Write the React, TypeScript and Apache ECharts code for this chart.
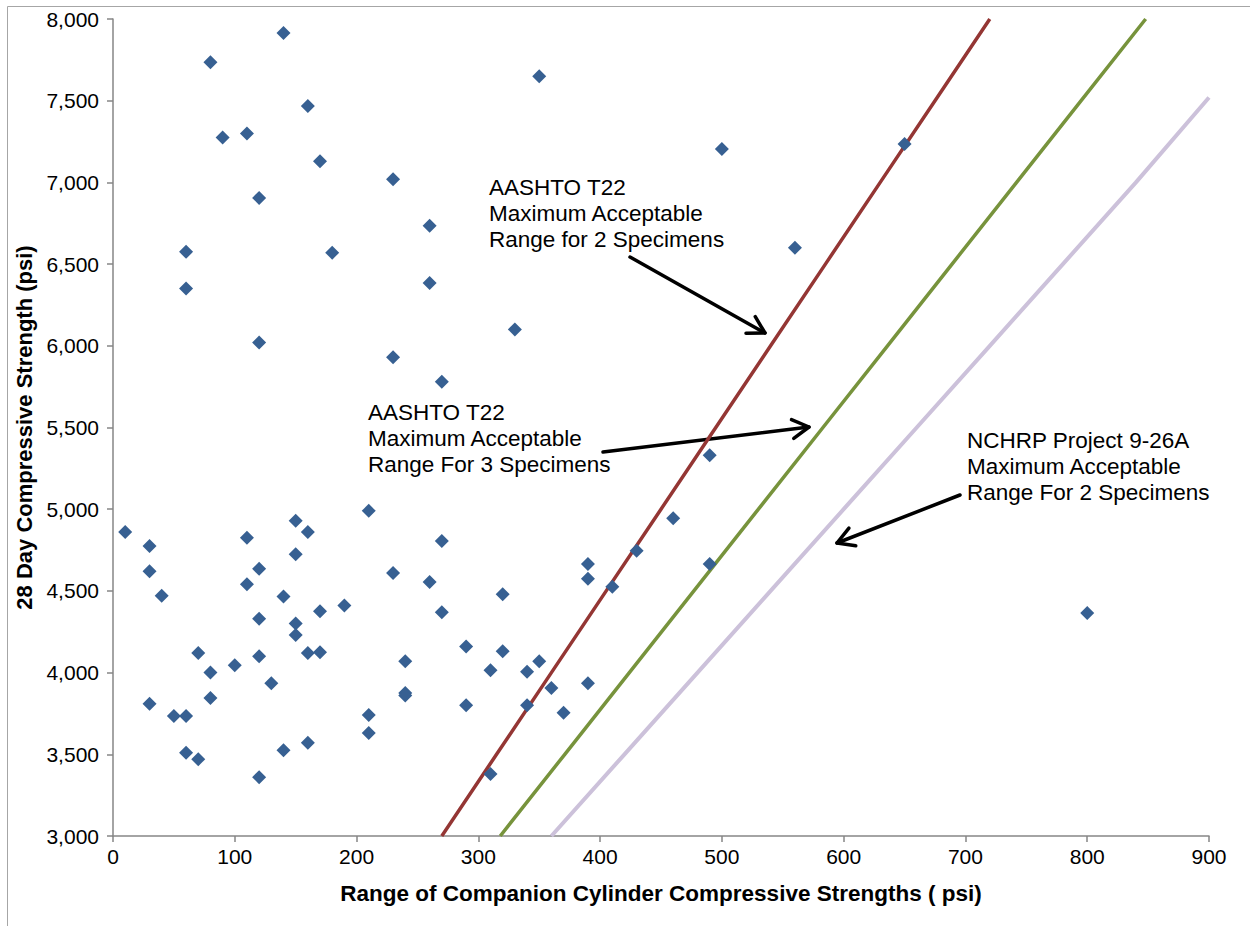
import React, { useEffect, useRef } from "react";
import * as echarts from "echarts";

// Range of companion cylinder compressive strengths (psi)
const rangePsi = [
  80, 140, 160, 90, 110, 170, 230, 120, 60, 180, 60, 350, 500, 260, 260, 560, 650, 120, 230, 270, 330, 490,
  10, 30, 30, 40, 30, 50, 60, 60, 70, 70, 80, 80, 100, 110, 110, 120, 120, 120, 120, 130, 140, 140, 150, 150,
  150, 150, 160, 160, 160, 170, 170, 190, 210, 210, 210, 230, 240, 240, 240, 260, 270, 270, 290, 290, 310,
  310, 320, 320, 340, 340, 350, 360, 370, 390, 390, 390, 410, 430, 460, 490, 800,
];
// 28 day compressive strength (psi)
const strengthPsi = [
  7735, 7915, 7467, 7275, 7300, 7130, 7020, 6905, 6575, 6570, 6350, 7650, 7205, 6735, 6385, 6600, 7235, 6020, 5930, 5780, 6100, 5330,
  4860, 4775, 4620, 4470, 3810, 3735, 3735, 3510, 3470, 4120, 4000, 3845, 4045, 4825, 4540, 4635, 4330, 4100, 3360, 3935, 4465, 3525, 4930, 4725,
  4300, 4230, 4860, 4120, 3570, 4375, 4125, 4410, 4990, 3740, 3630, 4610, 4070, 3875, 3860, 4555, 4805, 4370, 4160, 3800, 4015,
  3380, 4480, 4130, 4005, 3800, 4070, 3905, 3755, 3935, 4665, 4575, 4525, 4745, 4945, 4665, 4365,
];

// Limit lines: strength (psi) and the maximum acceptable range at that strength
const limitStrengths = [3000, 3500, 4000, 4500, 5000, 5500, 6000, 6500, 7000, 7500, 8000];
const aashto2Ranges = [270, 315, 360, 405, 450, 495, 540, 585, 630, 675, 720];
const aashto3Ranges = [318, 371, 424, 477, 530, 583, 636, 689, 742, 795, 848];
const nchrpStrengths = [3000, 3500, 4000, 4500, 5000, 5500, 6000, 6500, 7000, 7520];
const nchrpRanges = [360, 420, 480, 540, 600, 660, 720, 780, 840, 900];

const xTicks = { min: 0, max: 900, interval: 100 };
const yTicks = { min: 3000, max: 8000, interval: 500 };

const FONT = "'Liberation Sans', Arial, sans-serif";

function arrow(x1: number, y1: number, x2: number, y2: number) {
  const ang = Math.atan2(y2 - y1, x2 - x1);
  const len = 19;
  const spread = 0.52;
  const a1 = ang + Math.PI - spread;
  const a2 = ang + Math.PI + spread;
  const style = { stroke: "#000", lineWidth: 3.5, fill: null as any, lineCap: "round", lineJoin: "round" };
  return [
    { type: "line", shape: { x1, y1, x2, y2 }, style },
    {
      type: "polyline",
      shape: {
        points: [
          [x2 + len * Math.cos(a1), y2 + len * Math.sin(a1)],
          [x2, y2],
          [x2 + len * Math.cos(a2), y2 + len * Math.sin(a2)],
        ],
      },
      style,
    },
  ];
}

function note(x: number, y: number, text: string) {
  return {
    type: "text",
    x,
    y,
    style: {
      text,
      fontSize: 22.5,
      fontFamily: FONT,
      lineHeight: 26,
      fill: "#000",
      align: "left",
      verticalAlign: "top",
    },
  };
}

export default function App() {
  const ref = useRef<HTMLDivElement>(null);
  useEffect(() => {
    if (!ref.current) return;
    const chart = echarts.init(ref.current, null, { renderer: "svg" });
    const scatterData = rangePsi.map((r, i) => [r, strengthPsi[i]]);
    const a2 = limitStrengths.map((s, i) => [aashto2Ranges[i], s]);
    const a3 = limitStrengths.map((s, i) => [aashto3Ranges[i], s]);
    const nc = nchrpStrengths.map((s, i) => [nchrpRanges[i], s]);
    chart.setOption({
      animation: false,
      backgroundColor: "#fff",
      grid: { left: 113, top: 19, width: 1096, height: 817, containLabel: false },
      xAxis: {
        type: "value",
        min: xTicks.min,
        max: xTicks.max,
        interval: xTicks.interval,
        name: "Range of Companion Cylinder Compressive Strengths ( psi)",
        nameLocation: "middle",
        nameGap: 46,
        nameTextStyle: { fontFamily: FONT, fontSize: 22.5, fontWeight: "bold", color: "#000" },
        axisLine: { show: true, onZero: false, lineStyle: { color: "#868686", width: 1.5 } },
        axisTick: { show: true, length: 6, lineStyle: { color: "#868686", width: 1.5 } },
        axisLabel: { fontFamily: FONT, fontSize: 21, color: "#000", margin: 10 },
        splitLine: { show: false },
      },
      yAxis: {
        type: "value",
        min: yTicks.min,
        max: yTicks.max,
        interval: yTicks.interval,
        name: "28 Day Compressive Strength (psi)",
        nameLocation: "middle",
        nameRotate: 90,
        nameGap: 76,
        nameTextStyle: { fontFamily: FONT, fontSize: 22, fontWeight: "bold", color: "#000" },
        axisLine: { show: true, onZero: false, lineStyle: { color: "#868686", width: 1.5 } },
        axisTick: { show: true, length: 6, lineStyle: { color: "#868686", width: 1.5 } },
        axisLabel: {
          fontFamily: FONT,
          fontSize: 21,
          color: "#000",
          margin: 14,
          formatter: (v: number) => v.toLocaleString("en-US"),
        },
        splitLine: { show: false },
      },
      series: [
        {
          name: "AASHTO T22 2 Specimens",
          type: "line",
          data: a2,
          showSymbol: false,
          symbol: "none",
          lineStyle: { color: "#943634", width: 3.5 },
          z: 2,
        },
        {
          name: "AASHTO T22 3 Specimens",
          type: "line",
          data: a3,
          showSymbol: false,
          symbol: "none",
          lineStyle: { color: "#77933c", width: 3.5 },
          z: 2,
        },
        {
          name: "NCHRP 9-26A 2 Specimens",
          type: "line",
          data: nc,
          showSymbol: false,
          symbol: "none",
          lineStyle: { color: "#ccc1da", width: 4 },
          z: 2,
        },
        {
          name: "Strength",
          type: "scatter",
          data: scatterData,
          symbol: "diamond",
          symbolSize: 14,
          itemStyle: { color: "#376092", opacity: 1 },
          z: 5,
        },
      ],
      graphic: [
        {
          type: "rect",
          shape: { x: 7.5, y: 6.5, width: 1400, height: 1000 },
          style: { fill: null, stroke: "#a6a6a6", lineWidth: 1 },
          silent: true,
          z: 0,
        },
        note(489, 174, "AASHTO T22\nMaximum Acceptable\nRange for 2 Specimens"),
        note(368, 399, "AASHTO T22\nMaximum Acceptable\nRange For 3 Specimens"),
        note(967, 427, "NCHRP Project 9-26A\nMaximum Acceptable\nRange For 2 Specimens"),
        ...arrow(630, 257, 765, 333),
        ...arrow(603, 452, 809, 427),
        ...arrow(960, 495, 837, 543),
      ],
    });
    return () => chart.dispose();
  }, []);
  return (
    <div
      ref={ref}
      style={{ position: "fixed", left: 0, top: 0, width: 1250, height: 926, background: "#fff" }}
    />
  );
}
